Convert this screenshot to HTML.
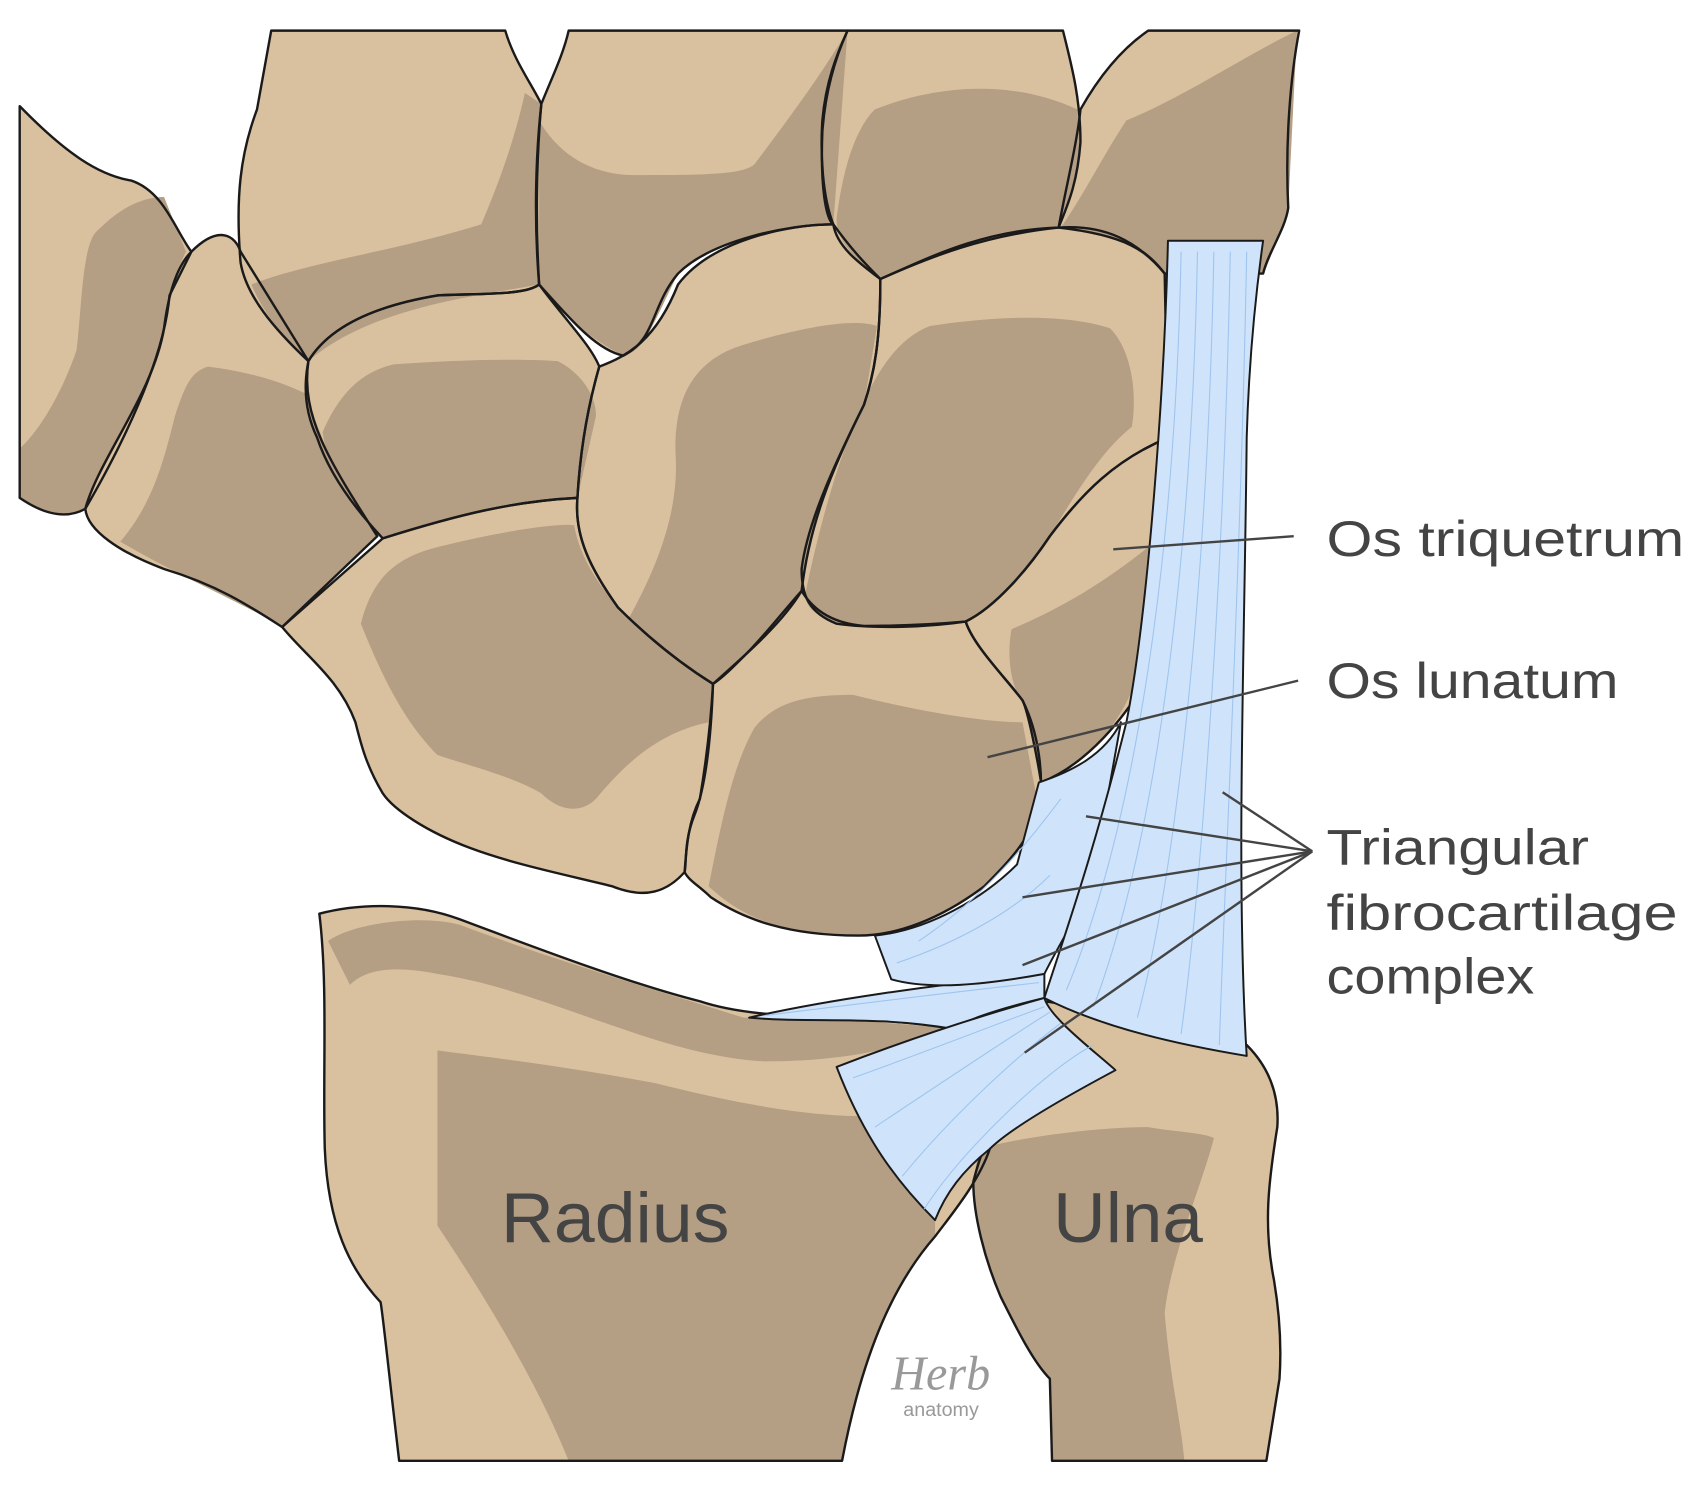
<!DOCTYPE html>
<html><head><meta charset="utf-8"><style>html,body{margin:0;padding:0;background:#fff}svg{display:block}</style></head>
<body>
<svg width="1706" height="1486" viewBox="0 0 1560 1358" preserveAspectRatio="none" xmlns="http://www.w3.org/2000/svg">
<defs>
<g id="bones">
<path d="M18,97 C60,140 90,160 120,165 C150,175 160,210 175,230 L155,270 C150,330 110,410 78,465 C60,475 40,470 18,455 Z"/>
<path d="M175,230 C200,205 215,215 220,230 L282,330 C275,380 300,420 345,490 L258,573 C230,555 200,535 150,520 C110,505 80,485 78,465 C90,420 140,360 150,300 C155,260 165,240 175,230 Z"/>
<path d="M248,28 L462,28 C470,55 485,75 495,95 C490,150 490,210 493,260 C480,270 440,268 400,270 C340,280 300,300 282,330 C250,300 225,270 220,240 C215,180 220,140 235,100 Z"/>
<path d="M520,28 L775,28 C765,50 755,80 752,120 C750,170 755,200 762,205 C720,205 650,220 620,250 C595,280 600,310 570,325 C545,320 520,290 493,260 C488,200 490,140 495,95 C505,70 515,50 520,28 Z"/>
<path d="M775,28 L972,28 C980,60 988,90 988,130 C985,170 975,190 968,208 C900,210 850,235 805,255 C785,240 765,225 762,205 C752,180 750,140 752,110 C755,75 765,50 775,28 Z"/>
<path d="M1050,28 L1188,28 C1180,70 1175,130 1178,190 C1175,210 1160,230 1155,250 L1065,250 C1050,230 1030,215 968,208 C975,170 985,130 988,100 C1005,70 1025,45 1050,28 Z"/>
<path d="M282,330 C300,300 340,280 400,270 C440,268 480,270 493,260 C515,290 540,315 548,335 C535,380 530,420 528,455 C470,458 420,470 350,492 C320,460 300,430 290,400 C278,375 278,350 282,330 Z"/>
<path d="M548,335 C575,325 600,310 620,260 C650,220 720,205 762,205 C780,230 795,245 805,255 C805,310 800,340 790,370 C760,430 740,480 733,540 C715,560 700,580 680,600 C670,610 660,620 652,625 C620,605 590,580 565,555 C540,520 525,490 528,455 C530,420 535,380 548,335 Z"/>
<path d="M805,255 C850,235 900,215 968,208 C1010,205 1040,220 1065,250 L1068,400 C1020,420 990,450 960,490 C940,520 910,555 883,568 C850,573 800,575 765,570 C740,560 733,545 733,520 C738,480 760,430 790,370 C800,340 805,310 805,255 Z"/>
<path d="M350,492 C420,470 470,458 528,455 C525,490 540,520 565,555 C590,580 620,605 652,625 C650,680 645,720 635,745 C625,770 628,790 626,797 C610,815 590,822 560,810 C520,800 470,790 430,775 C390,760 360,740 350,725 C335,700 330,680 325,660 C310,620 280,600 258,573 L350,492 Z"/>
<path d="M652,625 C680,600 715,570 733,540 C745,560 765,570 790,572 C830,572 860,570 883,568 C890,590 920,620 935,640 C950,670 955,710 950,740 C940,770 920,790 900,810 C860,840 820,855 785,855 C720,855 680,840 650,820 C640,810 630,805 626,797 C628,770 630,750 640,730 C645,700 650,660 652,625 Z"/>
<path d="M883,568 C910,555 940,520 960,490 C990,450 1020,420 1068,400 L1060,600 C1030,660 990,700 952,715 C948,690 940,650 935,640 C920,620 890,590 883,568 Z"/>
<path d="M292,835 C330,825 380,825 420,840 C500,870 580,900 640,915 C700,935 780,925 870,940 C900,950 910,990 905,1050 C895,1080 870,1110 855,1130 C820,1170 790,1230 770,1335 L365,1335 C355,1250 350,1200 348,1190 C320,1160 300,1120 297,1050 C295,980 300,900 292,835 Z"/>
<path d="M955,915 C1020,925 1100,940 1140,955 C1160,975 1170,1000 1168,1030 C1160,1080 1155,1120 1165,1170 C1170,1200 1172,1230 1170,1260 L1158,1335 L962,1335 L960,1260 C945,1245 930,1215 915,1185 C900,1150 890,1110 890,1080 C895,1060 905,1030 920,1010 C935,990 950,960 955,915 Z"/>
</g>
</defs>
<use href="#bones" fill="#d9c09e" stroke="none"/>
<g fill="#b49e84" stroke="none">
<path d="M18,410 C40,390 60,350 70,320 C75,280 75,220 90,210 C110,190 130,180 150,180 L170,230 C160,250 155,270 150,300 C140,360 90,420 78,465 C60,475 40,470 18,455 Z"/>
<path d="M110,495 C140,460 150,420 160,380 C170,350 175,340 190,335 C230,340 260,350 280,360 C300,420 320,460 345,490 L258,573 C220,550 170,530 110,495 Z"/>
<path d="M230,260 C280,240 360,230 440,205 C455,170 470,130 480,85 L495,95 C490,150 490,210 493,260 C440,270 340,280 282,330 C260,310 240,285 230,260 Z"/>
<path d="M493,110 C510,140 540,160 580,160 C640,160 680,160 690,150 C720,110 750,70 775,28 L762,205 C720,205 650,220 620,250 C595,300 590,320 570,325 C540,310 510,285 493,260 Z"/>
<path d="M800,100 C850,80 920,70 985,100 L988,130 C985,170 975,190 968,208 C900,210 850,235 805,255 C780,235 765,220 765,200 C770,160 780,120 800,100 Z"/>
<path d="M1030,110 C1080,90 1140,50 1186,28 L1178,190 C1175,210 1160,230 1155,250 L1065,250 C1045,230 1020,210 970,208 C990,180 1010,140 1030,110 Z"/>
<path d="M295,395 C310,360 330,340 360,333 C430,328 480,328 510,330 C530,340 545,360 545,380 L528,455 C470,458 420,470 350,492 C320,460 300,430 295,395 Z"/>
<path d="M575,565 C600,520 620,470 618,420 C615,370 630,330 680,315 C730,300 780,290 802,298 L790,370 C760,430 740,480 733,540 C700,580 670,610 652,625 C620,605 595,585 575,565 Z"/>
<path d="M736,545 C745,500 760,440 780,390 C800,340 820,310 850,298 C900,290 970,285 1015,300 C1035,320 1040,360 1035,390 C1010,410 990,440 960,490 C940,520 910,555 883,568 C850,573 800,575 765,570 C745,562 738,555 736,545 Z"/>
<path d="M330,570 C340,530 360,510 400,500 C460,485 510,478 525,480 C530,510 550,540 575,565 C600,590 630,610 652,625 L648,660 C600,670 570,700 545,730 C530,745 510,740 495,725 C470,710 430,700 400,690 C370,660 350,620 330,570 Z"/>
<path d="M648,810 C660,750 670,700 690,665 C710,640 740,635 780,635 C840,650 900,660 935,660 L950,740 C940,770 920,790 900,810 C860,840 820,855 785,855 C720,855 680,840 648,810 Z"/>
<path d="M925,575 C960,560 1000,540 1050,500 L1040,620 C1020,670 990,700 952,715 C948,690 940,650 935,640 C925,630 920,600 925,575 Z"/>
<path d="M300,860 C320,845 380,835 420,845 C500,875 600,905 680,930 C750,930 820,935 870,940 C830,955 780,970 700,970 C600,965 500,905 400,890 C350,880 330,890 320,900 Z"/>
<path d="M400,960 C440,965 520,975 600,990 C680,1010 740,1020 790,1020 C810,1050 830,1080 855,1115 L855,1130 C820,1170 790,1230 770,1335 L520,1335 C490,1260 440,1180 400,1120 Z"/>
<path d="M895,1050 C930,1040 1000,1030 1050,1030 C1080,1035 1100,1035 1110,1040 C1100,1080 1070,1150 1065,1200 C1070,1260 1080,1300 1083,1335 L962,1335 L960,1260 C945,1245 930,1215 915,1185 C900,1150 890,1110 890,1080 Z"/>
</g>
<use href="#bones" fill="none" stroke="#1a1a1a" stroke-width="2.2" stroke-linejoin="round"/>
<g fill="#cfe4fb" stroke="#1a1a1a" stroke-width="1.8" stroke-linejoin="round">
<path d="M685,930 C750,915 850,900 955,890 L955,912 C900,925 880,935 870,940 C800,928 740,935 685,930 Z"/>
<path d="M800,855 C850,850 900,820 930,790 L950,715 C980,705 1010,690 1025,660 L1000,800 C990,830 970,860 955,890 C900,900 850,905 815,895 Z"/>
<path d="M1068,220 L1155,220 C1148,270 1142,330 1140,400 C1138,600 1130,800 1140,965 C1080,955 1010,940 955,912 C975,850 1000,780 1030,660 C1050,560 1065,350 1068,220 Z"/>
<path d="M765,975 C830,950 890,930 955,912 C960,930 1000,960 1020,978 C960,1010 920,1035 905,1050 C880,1070 865,1090 855,1115 C820,1080 790,1040 765,975 Z"/>
</g>
<g stroke="#9fc4ee" stroke-width="1" fill="none">
<path d="M1080,230 C1075,500 1040,750 975,905 M1095,230 C1090,500 1060,760 1000,920 M1110,230 C1105,500 1080,780 1040,930 M1125,230 C1120,500 1100,800 1080,945 M1140,230 C1135,500 1120,800 1115,955"/>
<path d="M780,985 C850,960 900,940 955,920 M800,1030 C860,990 920,950 960,925 M825,1075 C870,1020 930,965 970,935 M845,1105 C880,1050 960,975 1000,955"/>
<path d="M820,880 C880,860 930,830 960,800 M840,860 C900,820 940,770 970,730 M700,928 C780,918 860,908 950,898"/>
</g>
<g stroke="#444" stroke-width="2.2" fill="none">
<line x1="1018" y1="502" x2="1183" y2="490"/>
<line x1="903" y1="692" x2="1187" y2="622"/>
<line x1="1200" y1="778" x2="993" y2="746"/>
<line x1="1200" y1="778" x2="935" y2="820"/>
<line x1="1200" y1="778" x2="935" y2="882"/>
<line x1="1200" y1="778" x2="937" y2="962"/>
<line x1="1200" y1="778" x2="1118" y2="724"/>
</g>
<g font-family="'Liberation Sans', 'DejaVu Sans', sans-serif" fill="#444">
<text x="1213" y="508" font-size="46" textLength="327" lengthAdjust="spacingAndGlyphs">Os triquetrum</text>
<text x="1213" y="638" font-size="46" textLength="267" lengthAdjust="spacingAndGlyphs">Os lunatum</text>
<text x="1213" y="790" font-size="46" textLength="240" lengthAdjust="spacingAndGlyphs">Triangular</text>
<text x="1213" y="850" font-size="46" textLength="321" lengthAdjust="spacingAndGlyphs">fibrocartilage</text>
<text x="1213" y="908" font-size="46" textLength="190" lengthAdjust="spacingAndGlyphs">complex</text>
<text x="458" y="1135" font-size="64" textLength="209" lengthAdjust="spacingAndGlyphs">Radius</text>
<text x="963" y="1135" font-size="64" textLength="137" lengthAdjust="spacingAndGlyphs">Ulna</text>
<text x="815" y="1270" font-size="44" font-family="'Liberation Serif', serif" font-style="italic" fill="#999">Herb</text>
<text x="826" y="1294" font-size="18" fill="#999">anatomy</text>
</g>
</svg>
</body></html>
